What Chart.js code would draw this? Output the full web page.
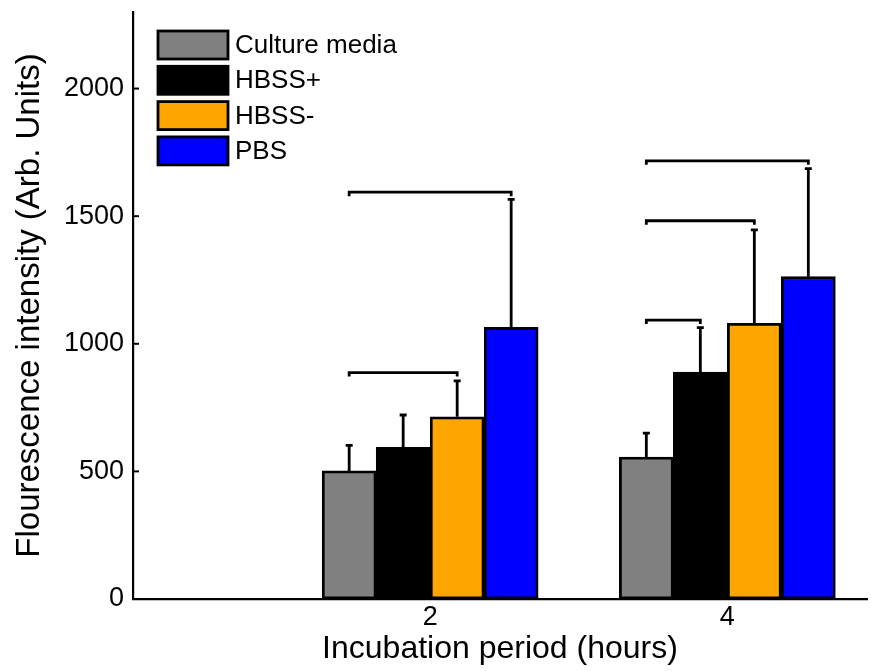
<!DOCTYPE html>
<html>
<head>
<meta charset="utf-8">
<script src="https://cdn.jsdelivr.net/npm/chart.js@4"></script>
<style>
  body { margin: 0; background: #fff; }
  #wrap { position: relative; width: 871px; height: 671px; }
</style>
</head>
<body>
<div id="wrap"><canvas id="chart"></canvas></div>
<script>
// values
const periods = [2, 4];
const yTicks = [0, 500, 1000, 1500, 2000];

const cultureMedia = [502, 556];
const cultureMediaErr = [100, 94];
const hbssPlus = [594, 889];
const hbssPlusErr = [127, 174];
const hbssMinus = [714, 1080];
const hbssMinusErr = [141, 366];
const pbs = [1064, 1263];
const pbsErr = [502, 423];

// significance brackets: period index, from dataset, to dataset, height
const bracketPeriod = [0, 0, 1, 1, 1];
const bracketFrom = [0, 0, 0, 0, 0];
const bracketTo = [2, 3, 1, 2, 3];
const bracketLevel = [887, 1594, 1093, 1482, 1717];

const FONT = "'Liberation Sans', Arial, Helvetica, sans-serif";
const errs = [cultureMediaErr, hbssPlusErr, hbssMinusErr, pbsErr];

function bar(label, data, color) {
  return {
    label: label,
    data: data,
    backgroundColor: color,
    borderColor: '#000',
    borderWidth: 2.8,
    borderSkipped: false,
    barThickness: 54
  };
}

const extras = {
  id: 'extras',
  afterDatasetsDraw(chart) {
    const ctx = chart.ctx, ys = chart.scales.y, area = chart.chartArea;
    ctx.save();
    ctx.strokeStyle = '#000';
    ctx.lineWidth = 2.8;

    // upward error bars
    chart.data.datasets.forEach((ds, i) => {
      chart.getDatasetMeta(i).data.forEach((b, j) => {
        const top = ys.getPixelForValue(ds.data[j] + errs[i][j]);
        ctx.beginPath();
        ctx.moveTo(b.x, b.y);
        ctx.lineTo(b.x, top);
        ctx.moveTo(b.x - 3.5, top);
        ctx.lineTo(b.x + 3.5, top);
        ctx.stroke();
      });
    });

    // brackets
    bracketLevel.forEach((lvl, k) => {
      const a = chart.getDatasetMeta(bracketFrom[k]).data[bracketPeriod[k]];
      const b = chart.getDatasetMeta(bracketTo[k]).data[bracketPeriod[k]];
      const y = ys.getPixelForValue(lvl);
      ctx.beginPath();
      ctx.moveTo(a.x, y + 4);
      ctx.lineTo(a.x, y);
      ctx.lineTo(b.x, y);
      ctx.lineTo(b.x, y + 4);
      ctx.stroke();
    });

    // inward tick marks on the y axis
    ctx.lineWidth = 2;
    yTicks.forEach(v => {
      if (v === 0) return;
      const y = ys.getPixelForValue(v);
      ctx.beginPath();
      ctx.moveTo(area.left, y);
      ctx.lineTo(area.left + 6, y);
      ctx.stroke();
    });

    // legend in the top-left corner
    ctx.font = '26px ' + FONT;
    ctx.textBaseline = 'middle';
    ctx.textAlign = 'left';
    chart.data.datasets.forEach((ds, i) => {
      const x = 158, y = 31 + i * 35.3;
      ctx.fillStyle = ds.backgroundColor;
      ctx.fillRect(x, y, 70, 28);
      ctx.lineWidth = 2.8;
      ctx.strokeRect(x, y, 70, 28);
      ctx.fillStyle = '#000';
      ctx.fillText(ds.label, x + 77, y + 15);
    });
    ctx.restore();
  }
};

new Chart(document.getElementById('chart'), {
  type: 'bar',
  data: {
    labels: periods,
    datasets: [
      bar('Culture media', cultureMedia, '#808080'),
      bar('HBSS+', hbssPlus, '#000000'),
      bar('HBSS-', hbssMinus, '#FFA500'),
      bar('PBS', pbs, '#0000FF')
    ]
  },
  options: {
    responsive: true,
    maintainAspectRatio: false,
    animation: false,
    layout: { padding: { top: 12, right: 4, left: 0, bottom: 0 } },
    plugins: { legend: { display: false }, tooltip: { enabled: false } },
    scales: {
      x: {
        type: 'linear',
        offset: false,
        min: 0,
        max: 4.94,
        afterBuildTicks: s => { s.ticks = periods.map(v => ({ value: v })); },
        afterFit: s => { s.height = 72; s.paddingLeft = 0; s.paddingRight = 0; },
        grid: { display: false, drawTicks: false },
        border: { display: true, color: '#000', width: 2.2 },
        ticks: { color: '#000', padding: 2, font: { family: FONT, size: 27 }, callback: v => String(v) },
        title: {
          display: true,
          text: 'Incubation period (hours)',
          color: '#000',
          padding: { top: 0, bottom: 3 },
          font: { family: FONT, size: 32 }
        }
      },
      y: {
        min: 0,
        max: 2300,
        afterBuildTicks: s => { s.ticks = yTicks.map(v => ({ value: v })); },
        afterFit: s => { s.width = 133; s.paddingTop = 0; s.paddingBottom = 0; },
        grid: { display: false, drawTicks: false },
        border: { display: true, color: '#000', width: 2.2 },
        ticks: { color: '#000', padding: 9, font: { family: FONT, size: 27 }, callback: v => String(v) },
        title: {
          display: true,
          text: 'Flourescence intensity (Arb. Units)',
          color: '#000',
          padding: { top: 10, bottom: 0 },
          font: { family: FONT, size: 33 }
        }
      }
    }
  },
  plugins: [extras]
});
</script>
</body>
</html>
